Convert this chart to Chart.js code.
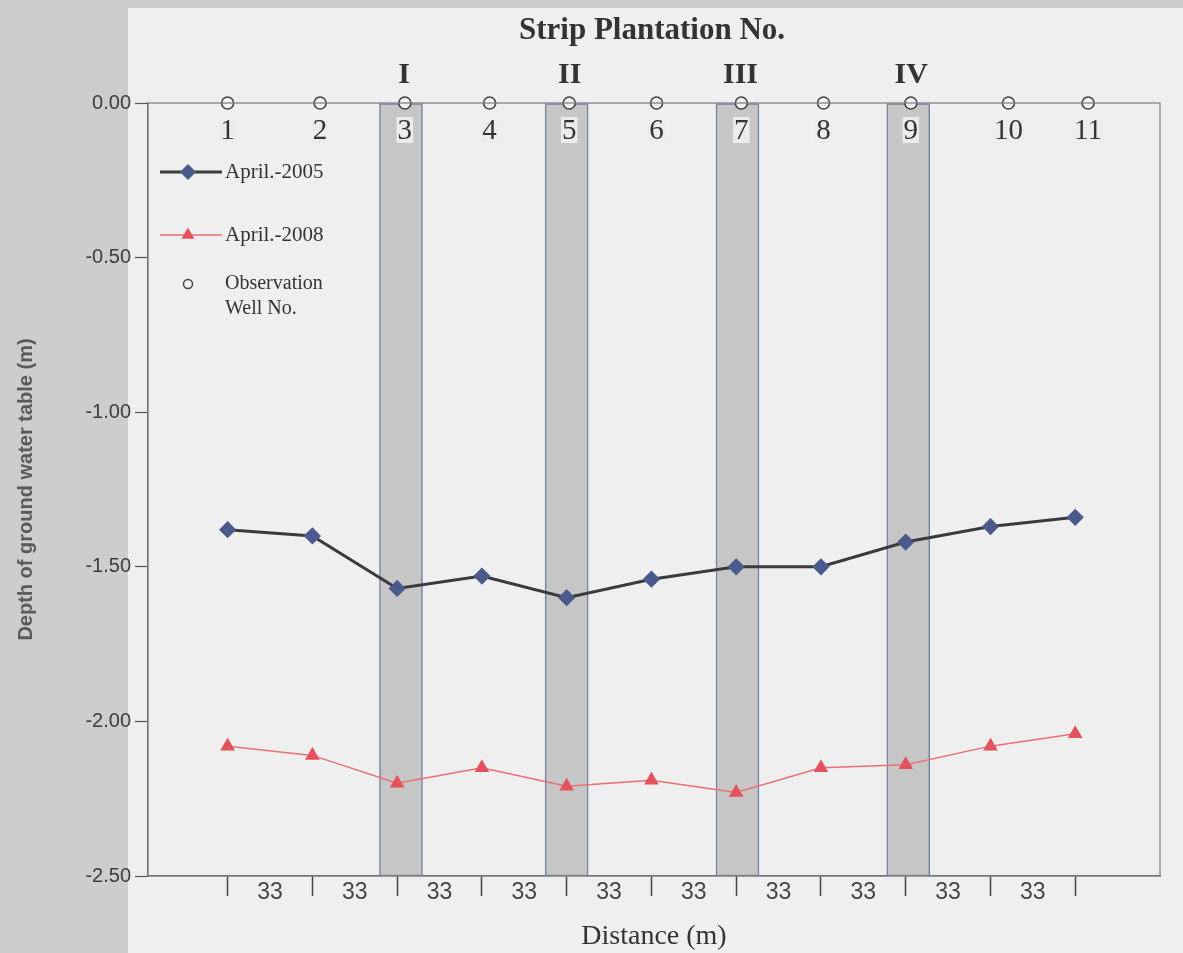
<!DOCTYPE html>
<html>
<head>
<meta charset="utf-8">
<script src="https://cdn.jsdelivr.net/npm/chart.js@4.4.0/dist/chart.umd.min.js"></script>
<style>
  html, body { margin: 0; padding: 0; }
  body { width: 1183px; height: 953px; background: #cdcdcd; position: relative; overflow: hidden; }
  #panel { position: absolute; left: 128px; top: 8px; right: 0; bottom: 0; background: #efefef; }
  #wrap { position: absolute; left: 0; top: 0; width: 1183px; height: 953px; }
</style>
</head>
<body>
<div id="panel"></div>
<div id="wrap"><canvas id="depthChart"></canvas></div>
<script>
// Observation wells and their distance along the transect (m)
const wellNumbers = ['1', '2', '3', '4', '5', '6', '7', '8', '9', '10', '11'];
const distances = [0, 33, 66, 99, 132, 165, 198, 231, 264, 297, 330];
// where the well circles are drawn on the top line
const wellMarkX = [0, 36, 69, 102, 133, 167, 200, 232, 266, 304, 335];

// Depth of ground water table (m)
const april2005 = [-1.38, -1.40, -1.57, -1.53, -1.60, -1.54, -1.50, -1.50, -1.42, -1.37, -1.34];
const april2008 = [-2.08, -2.11, -2.20, -2.15, -2.21, -2.19, -2.23, -2.15, -2.14, -2.08, -2.04];

// Strip plantations
const stripLabels = ['I', 'II', 'III', 'IV'];
const stripCenters = [67.5, 132, 198.5, 265];

const yTicks = [0, -0.5, -1, -1.5, -2, -2.5];

// tick marks at every well, spacing labels half way between them
const xStops = [];
distances.forEach((d, i) => {
    xStops.push(d);
    if (i < distances.length - 1) xStops.push((d + distances[i + 1]) / 2);
});

const SERIF = '"Liberation Serif", "DejaVu Serif", serif';
const SANS = '"Liberation Sans", Arial, sans-serif';

// Title, roman numerals, well numbers, frame and legend
const decorPlugin = {
    id: 'decor',
    afterDraw(chart) {
        const c = chart.ctx;
        const area = chart.chartArea;
        const xs = chart.scales.x;
        c.save();

        // frame round the plot
        c.strokeStyle = '#7a7a7a';
        c.lineWidth = 1.2;
        c.strokeRect(area.left, area.top, area.right - area.left, area.bottom - area.top);

        c.fillStyle = '#333';
        c.textAlign = 'center';
        c.textBaseline = 'middle';
        c.font = 'bold 31px ' + SERIF;
        c.fillText('Strip Plantation No.', 652, 31);

        c.font = 'bold 30px ' + SERIF;
        stripLabels.forEach((lab, i) => {
            c.fillText(lab, xs.getPixelForValue(stripCenters[i]) + 3, area.top - 28);
        });

        c.font = '29px ' + SERIF;
        wellNumbers.forEach((n, i) => {
            const x = xs.getPixelForValue(wellMarkX[i]);
            const w = c.measureText(n).width;
            c.fillStyle = '#ececec';
            c.fillRect(x - w / 2 - 1, area.top + 14, w + 2, 26);
            c.fillStyle = '#333';
            c.fillText(n, x, area.top + 28);
        });

        // legend
        const ds = chart.data.datasets;
        const lx = area.left + 12;
        const rows = [ds[1], ds[2]];
        c.textAlign = 'left';
        c.font = '21px ' + SERIF;
        rows.forEach((d, i) => {
            const y = area.top + 69 + i * 63;
            c.strokeStyle = d.borderColor;
            c.lineWidth = d.borderWidth;
            c.beginPath();
            c.moveTo(lx, y);
            c.lineTo(lx + 62, y);
            c.stroke();
            c.fillStyle = d.pointBackgroundColor;
            c.strokeStyle = d.pointBorderColor;
            Chart.helpers.drawPoint(c, { pointStyle: d.pointStyle, radius: 6, rotation: 0, borderWidth: 1 }, lx + 28, y);
            c.fillStyle = '#333';
            c.fillText(d.label, lx + 65, y);
        });
        const ow = ds[0];
        const oy = area.top + 181;
        c.fillStyle = ow.pointBackgroundColor;
        c.strokeStyle = ow.pointBorderColor;
        c.lineWidth = 1.5;
        Chart.helpers.drawPoint(c, { pointStyle: 'circle', radius: 4.5, rotation: 0, borderWidth: 1.5 }, lx + 28, oy);
        c.fillStyle = '#333';
        c.font = '20px ' + SERIF;
        c.fillText('Observation', lx + 65, oy);
        c.fillText('Well No.', lx + 65, oy + 25);

        c.restore();
    }
};

const ctx = document.getElementById('depthChart').getContext('2d');
new Chart(ctx, {
    type: 'line',
    data: {
        datasets: [
            {
                type: 'scatter',
                label: 'Observation Well No.',
                data: wellMarkX.map(x => ({ x: x, y: 0 })),
                pointStyle: 'circle',
                pointRadius: 6,
                pointBackgroundColor: '#f2f2f2',
                pointBorderColor: '#454545',
                pointBorderWidth: 1.6,
                showLine: false,
                clip: false,
                order: 0
            },
            {
                type: 'line',
                label: 'April.-2005',
                data: distances.map((x, i) => ({ x: x, y: april2005[i] })),
                borderColor: '#3a3a3a',
                borderWidth: 3,
                pointStyle: 'rectRot',
                pointRadius: 6.5,
                pointBackgroundColor: '#4b5a8c',
                pointBorderColor: '#4b5a8c',
                tension: 0,
                order: 1
            },
            {
                type: 'line',
                label: 'April.-2008',
                data: distances.map((x, i) => ({ x: x, y: april2008[i] })),
                borderColor: '#ea6f78',
                borderWidth: 1.5,
                pointStyle: 'triangle',
                pointRadius: 7,
                pointBackgroundColor: '#e3525d',
                pointBorderColor: '#e3525d',
                tension: 0,
                order: 2
            },
            {
                type: 'bar',
                label: 'Strip plantation',
                data: stripCenters.map(x => ({ x: x, y: [-2.5, 0] })),
                backgroundColor: '#c6c6c6',
                borderColor: '#75829b',
                borderWidth: 1.5,
                borderSkipped: false,
                barThickness: 43,
                order: 3
            }
        ]
    },
    options: {
        responsive: true,
        maintainAspectRatio: false,
        animation: false,
        layout: { padding: { top: 103, right: 23, bottom: 0, left: 0 } },
        plugins: {
            legend: { display: false },
            tooltip: { enabled: false }
        },
        scales: {
            x: {
                type: 'linear',
                min: -31,
                max: 363,
                offset: false,
                afterBuildTicks: s => { s.ticks = xStops.map(v => ({ value: v })); },
                ticks: {
                    autoSkip: false,
                    maxRotation: 0,
                    padding: -17,
                    color: '#444',
                    font: { family: SANS, size: 23 },
                    callback: (v, i) => (i % 2 === 1 ? String(distances[(i + 1) / 2] - distances[(i - 1) / 2]) : '')
                },
                grid: {
                    offset: false,
                    drawOnChartArea: false,
                    tickLength: 20,
                    tickWidth: 1.5,
                    color: c => (c.index % 2 === 0 ? '#444' : 'rgba(0,0,0,0)')
                },
                border: { display: true, color: '#6a6a6a', width: 1.2 },
                title: {
                    display: true,
                    text: 'Distance (m)',
                    color: '#333',
                    font: { family: SERIF, size: 28 },
                    padding: { top: 0, bottom: 0 }
                },
                afterFit: s => { s.height = 77; }
            },
            y: {
                min: -2.5,
                max: 0,
                afterBuildTicks: s => { s.ticks = yTicks.map(v => ({ value: v })); },
                ticks: {
                    color: '#3c3c3c',
                    font: { family: SANS, size: 20 },
                    padding: 4,
                    callback: v => v.toFixed(2)
                },
                grid: { drawOnChartArea: false, tickLength: 13, tickWidth: 1.2, color: '#555' },
                border: { display: true, color: '#6a6a6a', width: 1.2 },
                title: {
                    display: true,
                    text: 'Depth of ground water table (m)',
                    color: '#5a5a5a',
                    font: { family: SANS, size: 20, weight: 'bold' },
                    padding: { top: 14, bottom: 0 }
                },
                afterFit: s => { s.width = 148; }
            }
        }
    },
    plugins: [decorPlugin]
});
</script>
</body>
</html>
